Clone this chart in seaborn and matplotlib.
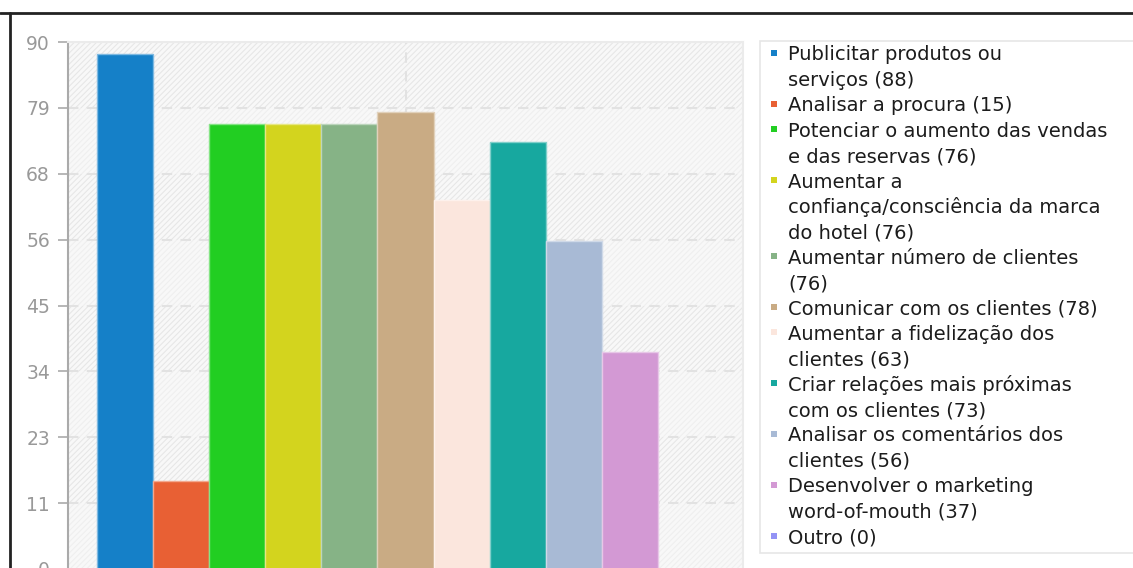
import textwrap

import matplotlib
matplotlib.use("Agg")
import matplotlib.pyplot as plt
from matplotlib.lines import Line2D
from matplotlib.patches import Rectangle
import numpy as np
import pandas as pd
import seaborn as sns

# Objectives of social-media use and number of answers
categories = [
    "Publicitar produtos ou serviços",
    "Analisar a procura",
    "Potenciar o aumento das vendas e das reservas",
    "Aumentar a confiança/consciência da marca do hotel",
    "Aumentar número de clientes",
    "Comunicar com os clientes",
    "Aumentar a fidelização dos clientes",
    "Criar relações mais próximas com os clientes",
    "Analisar os comentários dos clientes",
    "Desenvolver o marketing word-of-mouth",
    "Outro",
]
values = [88, 15, 76, 76, 76, 78, 63, 73, 56, 37, 0]
colors = [
    "#1580c8", "#e86034", "#22ce22", "#d3d41e", "#86b386", "#c9ab84",
    "#fbe6dd", "#17a89f", "#a8bad5", "#d399d4", "#9393f5",
]
y_max = 90
y_ticks = [i * 11.25 for i in range(9)]
y_tick_labels = ["0", "11", "23", "34", "45", "56", "68", "79", "90"]

W, H = 1133, 568
sns.set_theme(style="white")
plt.rcParams["font.family"] = ["DejaVu Sans"]
plt.rcParams["hatch.linewidth"] = 0.8

fig = plt.figure(figsize=(W / 100, H / 100), dpi=100)
ax = fig.add_axes([68 / W, -1 / H, (743 - 68) / W, (569 - 42) / H])

df = pd.DataFrame({"grupo": [""] * len(categories), "objetivo": categories, "n": values})
palette = dict(zip(categories, colors))
sns.barplot(data=df, x="grupo", y="n", hue="objetivo", hue_order=categories,
            palette=palette, width=0.913, gap=0, dodge=True, legend=False,
            saturation=1, ax=ax, zorder=3)

# light edge around each bar
for p in ax.patches:
    fc = np.array(matplotlib.colors.to_rgb(p.get_facecolor()))
    p.set_edgecolor(fc + (1 - fc) * 0.45)
    p.set_linewidth(1.0)

ax.set_xlim(-0.5, 0.5)
ax.set_ylim(0, y_max)
ax.set_facecolor("#f8f8f8")

# hatched bands behind the bars
for i in range(8):
    lo, hi = y_ticks[i], y_ticks[i + 1]
    ax.axhspan(lo, hi, facecolor="none", hatch="//////",
               edgecolor="#e7e7e7" if i % 2 else "#efefef", linewidth=0, zorder=0)

ax.set_yticks(y_ticks)
ax.set_yticklabels(y_tick_labels)
ax.set_xticks([0])
ax.set_xticklabels([""])
ax.set_xlabel("")
ax.set_ylabel("")
ax.tick_params(axis="y", colors="#aaaaaa", labelcolor="#999999", labelsize=13.5,
               length=7, width=1.2, direction="out", pad=6, left=True)
ax.tick_params(axis="x", length=0)
for yt in y_ticks[1:-1]:
    ax.axhline(yt, color="#e2e2e2", lw=1.5, ls=(0, (5, 4)), zorder=1)
ax.axvline(0, color="#e2e2e2", lw=1.5, ls=(0, (5, 4)), zorder=1)

for side in ["top", "right"]:
    ax.spines[side].set_color("#ebebeb")
    ax.spines[side].set_linewidth(1.5)
ax.spines["left"].set_color("#aaaaaa")
ax.spines["left"].set_linewidth(1.5)
ax.spines["bottom"].set_visible(False)

# legend panel
fig.add_artist(Rectangle((760 / W, 1 - 553 / H), (1140 - 760) / W, (553 - 41) / H,
                         transform=fig.transFigure, facecolor="white",
                         edgecolor="#e6e6e6", linewidth=1.2, zorder=1))
line_y = 53
pitch = 25.4
for name, v, c in zip(categories, values, colors):
    lines = textwrap.fill(f"{name} ({v})", width=30, break_on_hyphens=False).split("\n")
    fig.add_artist(Rectangle(((774 - 3) / W, 1 - (line_y + 3) / H), 6 / W, 6 / H,
                             transform=fig.transFigure, facecolor=c,
                             edgecolor="none", zorder=2))
    for ln in lines:
        fig.text(788 / W, 1 - line_y / H, ln, ha="left", va="center_baseline",
                 fontsize=14, color="#1c1c1c", zorder=3)
        line_y += pitch

# outer frame
fig.add_artist(Line2D([0, 1], [1 - 13 / H] * 2, transform=fig.transFigure,
                      color="#222222", lw=2))
fig.add_artist(Line2D([10 / W] * 2, [0, 1 - 13 / H], transform=fig.transFigure,
                      color="#222222", lw=2))

fig.savefig("out.png", dpi=100, facecolor="white")
